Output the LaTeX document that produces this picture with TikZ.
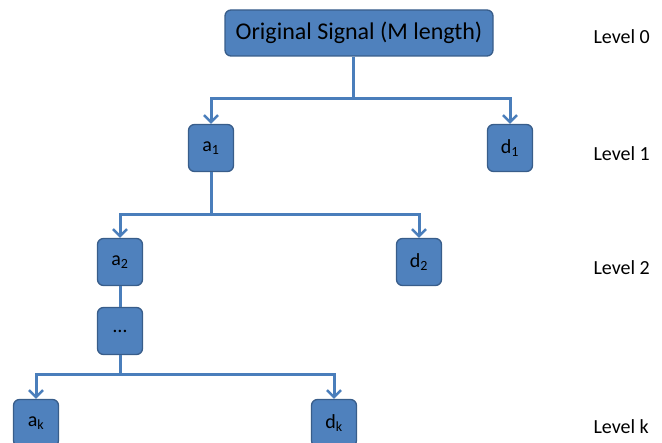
\documentclass[tikz,border=0pt]{standalone}
\usepackage{fontspec}
\setmainfont{Carlito}
\usetikzlibrary{arrows.meta}
\definecolor{boxfill}{HTML}{4F81BD}
\definecolor{boxline}{HTML}{385D8A}
\definecolor{linkblue}{HTML}{4A7EBB}
\begin{document}
\begin{tikzpicture}[x=1pt,y=-1pt,
  box/.style={draw=boxline,line width=1.3pt,fill=boxfill,rounded corners=6pt,
    inner sep=0pt,align=center,font=\fontsize{20}{24}\selectfont},
  small/.style={box,minimum width=45pt,minimum height=47pt},
  link/.style={draw=linkblue,line width=3pt},
  tip/.style={link,-{Straight Barb[length=7pt,width=14pt,line width=2.5pt]}},
  level/.style={anchor=west,font=\fontsize{20}{24}\selectfont}]
\useasboundingbox (0,0) rectangle (662,443);
\clip (0,0) rectangle (662,443);
% tree nodes
\node[box,minimum width=268pt,minimum height=46pt,font=\fontsize{24}{28}\selectfont] (root) at (359,33) {Original Signal (M length)};
\node[small] (a1) at (211,148) {a\textsubscript{1}};
\node[small] (d1) at (510,148) {d\textsubscript{1}};
\node[small] (a2) at (120,262) {a\textsubscript{2}};
\node[small] (d2) at (419,262) {d\textsubscript{2}};
\node[small] (dots) at (120,331) {…};
\node[small] (ak) at (36,423) {a\textsubscript{k}};
\node[small] (dk) at (334,423) {d\textsubscript{k}};
% branch points
\coordinate (j0) at (353,99);
\coordinate (j1) at (211,215);
\coordinate (jk) at (120,375);
% connectors
\draw[link] (root.south -| j0) -- (j0);
\draw[tip] (j0) -| (a1.north);
\draw[tip] (j0) -| (d1.north);
\draw[link] (a1.south) -- (j1);
\draw[tip] (j1) -| (a2.north);
\draw[tip] (j1) -| (d2.north);
\draw[link] (a2.south) -- (dots.north);
\draw[link] (dots.south) -- (jk);
\draw[tip] (jk) -| (ak.north);
\draw[tip] (jk) -| (dk.north);
% level labels
\node[level] (l0) at (590,37) {Level 0};
\node[level] (l1) at (590,154) {Level 1};
\node[level] (l2) at (590,268) {Level 2};
\node[level] (lk) at (590,427) {Level k};
\end{tikzpicture}
\end{document}
